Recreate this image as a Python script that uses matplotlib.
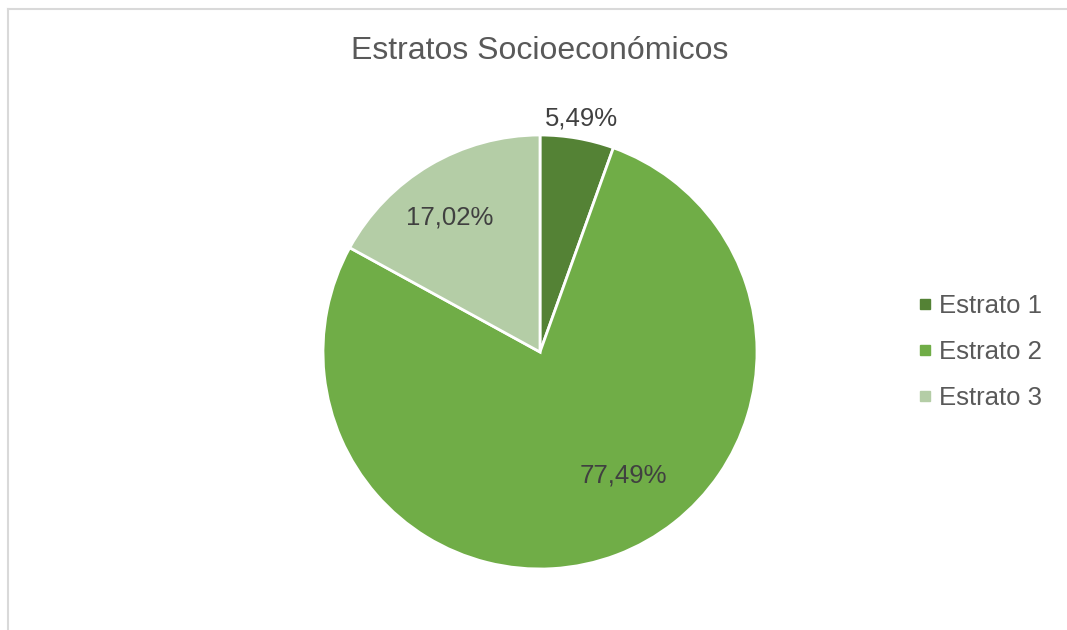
import matplotlib.pyplot as plt
from matplotlib.lines import Line2D

# datos del grafico
categorias = ["Estrato 1", "Estrato 2", "Estrato 3"]
porcentajes = [5.49, 77.49, 17.02]
colores = ["#548235", "#70AD47", "#B4CDA6"]
# posiciones de las etiquetas (coordenadas del pastel, radio 1)
pos_etiquetas = [(0.189, 1.074), (0.382, -0.571), (-0.415, 0.622)]

plt.rcParams['font.family'] = ['Liberation Sans', 'DejaVu Sans']

W, H = 1067, 630
fig = plt.figure(figsize=(W / 100, H / 100), dpi=100)

# marco gris claro (solo arriba e izquierda visibles)
fig.add_artist(Line2D([8 / W, 1], [1 - 9 / H, 1 - 9 / H], color="#D9D9D9", lw=1.5))
fig.add_artist(Line2D([8 / W, 8 / W], [0, 1 - 9 / H], color="#D9D9D9", lw=1.5))

cx, cy, r = 540, 352, 217
ax = fig.add_axes([(cx - r) / W, (H - cy - r) / H, 2 * r / W, 2 * r / H])
wedges, _ = ax.pie(porcentajes, colors=colores, startangle=90, counterclock=False,
                   wedgeprops=dict(edgecolor="white", linewidth=2))
ax.set_xlim(-1, 1)
ax.set_ylim(-1, 1)
ax.axis("off")

for v, (x, y) in zip(porcentajes, pos_etiquetas):
    ax.text(x, y, f"{v:.2f}%".replace(".", ","), ha="center", va="center",
            fontsize=18.5, color="#404040")

fig.text(cx / W, 1 - 51 / H, "Estratos Socioeconómicos", ha="center", va="center",
         fontsize=23, color="#595959")

handles = [Line2D([], [], marker="s", linestyle="none", markersize=7,
                  markerfacecolor=c, markeredgecolor=c) for c in colores]
leg = fig.legend(handles, categorias, loc="center left",
                 bbox_to_anchor=(902 / W, 1 - 352 / H), frameon=False,
                 fontsize=18.5, labelcolor="#595959", handletextpad=0.15,
                 handlelength=0.8, labelspacing=0.85, borderpad=0)

fig.savefig("out.png", dpi=100)
